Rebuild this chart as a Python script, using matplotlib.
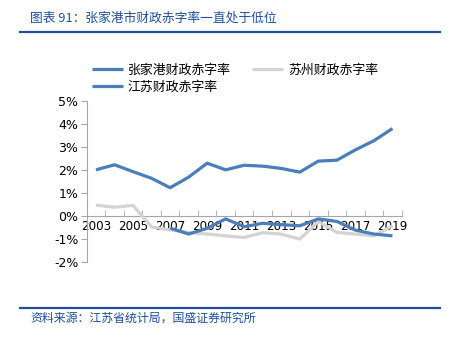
import numpy as np
import matplotlib
matplotlib.use('Agg')
import matplotlib.pyplot as plt
from matplotlib.lines import Line2D
from matplotlib.ticker import FixedLocator, FuncFormatter

plt.rcParams['font.family'] = ['Noto Sans CJK SC', 'DejaVu Sans']

# data (percent)
years = list(range(2003, 2020))
zjg_deficit = [2.02, 2.24, 1.94, 1.65, 1.24, 1.70, 2.31, 2.02, 2.22, 2.18, 2.08, 1.92,
               2.40, 2.44, 2.89, 3.29, 3.82]
suzhou_deficit = [0.48, 0.39, 0.47, -0.47, -0.60, -0.71, -0.78, -0.86, -0.93, -0.72, -0.78,
                  -1.00, -0.23, -0.71, -0.78, -0.86, -0.42]
jiangsu_years = list(range(2007, 2020))
jiangsu_deficit = [-0.52, -0.78, -0.53, -0.12, -0.46, -0.31, -0.37, -0.42, -0.12, -0.23,
                   -0.61, -0.78, -0.86]
y_ticks = [-2, -1, 0, 1, 2, 3, 4, 5]

blue = '#4A7EBB'
grey = '#D3D3D3'
dark_blue = '#1F4E9B'

fig = plt.figure(figsize=(4.5, 3.39), dpi=100)
ax = fig.add_axes([0.1927, 0.2271, 0.70, 0.4735])

x_all = np.arange(len(years))
x_js = np.array([years.index(y) for y in jiangsu_years])

l_sz, = ax.plot(x_all, suzhou_deficit, color=grey, lw=2.3, solid_capstyle='butt', zorder=2)
l_js, = ax.plot(x_js, jiangsu_deficit, color=blue, lw=2.3, solid_capstyle='butt', zorder=2)
l_zjg, = ax.plot(x_all, zjg_deficit, color=blue, lw=2.3, solid_capstyle='butt', zorder=2)

ax.set_xlim(-0.5, len(years) - 0.5)
ax.set_ylim(-2, 5)

# axis styling: x axis sits on 0%
for s in ['top', 'right']:
    ax.spines[s].set_visible(False)
ax.spines['left'].set_color('#A6A6A6')
ax.spines['bottom'].set_color('#A6A6A6')
ax.spines['bottom'].set_position(('data', 0))
ax.spines['bottom'].set_zorder(1)

ax.yaxis.set_major_locator(FixedLocator(y_ticks))
ax.yaxis.set_major_formatter(FuncFormatter(lambda v, p: f'{v:.0f}%'))
ax.tick_params(axis='y', direction='out', length=4, color='#A6A6A6', labelsize=9,
               labelcolor='#000000', pad=2)
for lbl in ax.get_yticklabels():
    lbl.set_family('DejaVu Sans')

ax.set_xticks(x_all[::2])
ax.set_xticklabels([str(y) for y in years[::2]], family='DejaVu Sans')
ax.set_xticks(np.arange(len(years) + 1) - 0.5, minor=True)
ax.tick_params(axis='x', which='major', length=0, labelsize=8.6, pad=3)
ax.tick_params(axis='x', which='minor', direction='in', length=4, color='#A6A6A6')

# legend, row-wise order
fig.legend([l_zjg, l_js, l_sz], ['张家港财政赤字率', '江苏财政赤字率', '苏州财政赤字率'],
           ncol=2, frameon=False, loc='upper left', bbox_to_anchor=(0.204, 0.812),
           fontsize=9.3, handlelength=2.4, handletextpad=0.4, columnspacing=1.6,
           labelspacing=0.3, borderpad=0, borderaxespad=0)

# title, rules and source
fig.text(0.067, 0.948, '图表 91：张家港市财政赤字率一直处于低位', fontsize=9.2, color=dark_blue,
         style='italic', ha='left', va='center')
fig.add_artist(Line2D([0.044, 0.978], [0.905, 0.905], color=dark_blue, lw=1.6))
fig.add_artist(Line2D([0.044, 0.978], [0.091, 0.091], color=dark_blue, lw=1.6))
fig.text(0.067, 0.062, '资料来源：江苏省统计局，国盛证券研究所', fontsize=8.6, color=dark_blue,
         style='italic', ha='left', va='center')

fig.savefig('out.png', dpi=100)
